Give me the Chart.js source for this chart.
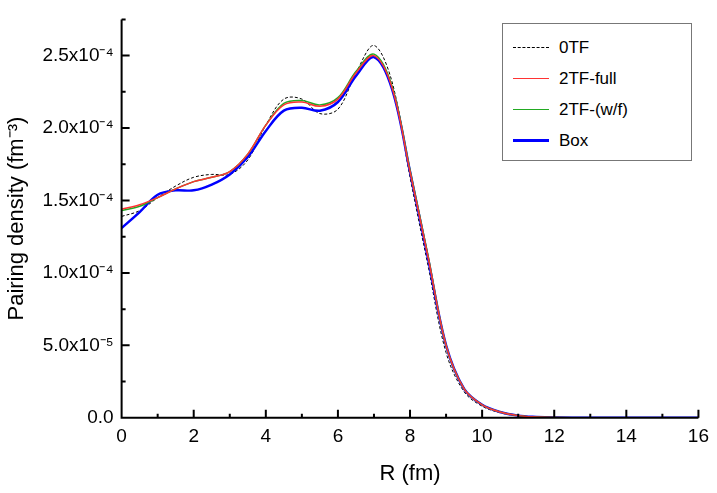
<!DOCTYPE html>
<html><head><meta charset="utf-8">
<script src="https://cdn.jsdelivr.net/npm/chart.js@4"></script>
<style>
body{margin:0;background:#fff;font-family:"Liberation Sans",Arial,sans-serif}
#wrap{position:relative;width:717px;height:493px}
#legend{position:absolute;left:502px;top:23px;width:190px;height:138px;border:1.5px solid #777;background:#fff;font-size:17px;box-sizing:border-box;padding-top:8px}
#legend div{display:flex;align-items:center;height:31px}
#legend span.l{display:inline-block;width:36px;margin:0 10px 0 10px;border-top:2px solid}
</style></head><body>
<div id="wrap"><canvas id="c" width="717" height="493"></canvas>
<div id="legend">
<div><span class="l" style="border-top:1.5px dashed #000"></span>0TF</div>
<div><span class="l" style="border-color:#f33;border-top-width:1.5px"></span>2TF-full</div>
<div><span class="l" style="border-color:#2a2;border-top-width:1.5px"></span>2TF-(w/f)</div>
<div><span class="l" style="border-color:#00f;border-top-width:3px"></span>Box</div>
</div></div>
<script>
// radius in fm, densities in units of 1e-4 fm^-3
const radius = [0,0.5,1,1.5,2,2.5,3,3.5,4,4.5,5,5.5,6,6.5,7,7.5,8,8.5,9,9.5,10,10.5,11,11.5,12,13,14,15,16];
const tail = [0.5,0.2,0.09,0.04,0.015,0.006,0.002,0.0005,0,0,0];
const zeroTF = [1.39,1.43,1.52,1.60,1.66,1.68,1.68,1.78,2.02,2.20,2.20,2.10,2.13,2.38,2.57,2.32,1.66,1.05].concat([0.45,0.18,0.08,0.035,0.013,0.005,0.002,0.0004,0,0,0]);
const twoTFfull = [1.44,1.47,1.52,1.58,1.63,1.66,1.70,1.82,2.02,2.16,2.18,2.15,2.20,2.38,2.50,2.28,1.70,1.11].concat(tail);
const twoTFwf = [1.43,1.46,1.52,1.58,1.63,1.66,1.70,1.82,2.02,2.17,2.19,2.16,2.21,2.39,2.51,2.29,1.71,1.12].concat(tail);
const box = [1.31,1.42,1.54,1.57,1.57,1.61,1.68,1.80,1.98,2.12,2.14,2.12,2.18,2.36,2.49,2.27,1.70,1.10].concat(tail);
const yTickLabels = {0:'0.0',0.5:'5.0x10⁻⁵',1:'1.0x10⁻⁴',1.5:'1.5x10⁻⁴',2:'2.0x10⁻⁴',2.5:'2.5x10⁻⁴'};

const pts = arr => arr.map((v, i) => ({x: radius[i], y: v}));
const ds = (data, color, width, dash) => ({data: pts(data), borderColor: color, borderWidth: width,
  borderDash: dash || [], pointRadius: 0, tension: 0.35, fill: false});

// inward tick marks, drawn from the scales
const inwardTicks = {
  id: 'inwardTicks',
  afterDraw(chart) {
    const {ctx, chartArea: a, scales: {x, y}} = chart;
    ctx.save();
    ctx.strokeStyle = '#000';
    ctx.lineWidth = 2;
    ctx.beginPath();
    ctx.moveTo(a.left, a.top); ctx.lineTo(a.left, a.bottom); ctx.lineTo(a.right, a.bottom);
    for (let v = 0; v <= 16; v += 1) {
      const px = x.getPixelForValue(v), len = v % 2 === 0 ? 8 : 4;
      ctx.moveTo(px, a.bottom); ctx.lineTo(px, a.bottom - len);
    }
    for (let v = 0; v <= 2.75; v += 0.25) {
      const py = y.getPixelForValue(v), len = (Math.round(v * 4) % 2 === 0) ? 8 : 4;
      ctx.moveTo(a.left, py); ctx.lineTo(a.left + len, py);
    }
    ctx.stroke();
    ctx.restore();
  }
};

new Chart(document.getElementById('c'), {
  type: 'line',
  data: {datasets: [
    ds(twoTFfull, '#f33', 1.5),
    ds(twoTFwf, '#2a2', 1.5),
    ds(box, '#00f', 2.5),
    ds(zeroTF, '#000', 1, [3, 2])
  ]},
  options: {
    responsive: false, animation: false,
    layout: {padding: {top: 4, right: 16, bottom: 2}},
    plugins: {legend: {display: false}, tooltip: {enabled: false}},
    scales: {
      x: {type: 'linear', min: 0, max: 16,
        grid: {display: false, drawTicks: false}, border: {display: false},
        ticks: {stepSize: 2, color: '#000', padding: 8, font: {family: 'Liberation Sans', size: 19}},
        title: {display: true, text: 'R (fm)', color: '#000', font: {family: 'Liberation Sans', size: 22}}},
      y: {min: 0, max: 2.75,
        afterBuildTicks: s => { s.ticks = Object.keys(yTickLabels).map(Number).sort((p, q) => p - q).map(v => ({value: v})); },
        grid: {display: false, drawTicks: false}, border: {display: false},
        ticks: {color: '#000', padding: 8, font: {family: 'Liberation Sans', size: 19}, callback: v => yTickLabels[v]},
        title: {display: true, text: 'Pairing density (fm⁻³)', color: '#000', font: {family: 'Liberation Sans', size: 22}}}
    }
  },
  plugins: [inwardTicks]
});
</script></body></html>
